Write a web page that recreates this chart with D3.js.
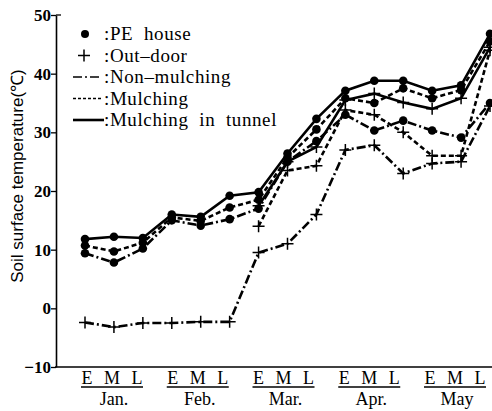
<!DOCTYPE html>
<html>
<head>
<meta charset="utf-8">
<script src="https://d3js.org/d3.v7.min.js"></script>
<style>
  body { margin: 0; background: #fff; }
  svg { display: block; }
  text { font-family: "Liberation Serif", "DejaVu Serif", serif; fill: #000; }
</style>
</head>
<body>
<div id="chart"></div>
<script>
// Data (E/M/L = early/mid/late of each month)
const periods = ["E", "M", "L"];
const months = ["Jan.", "Feb.", "Mar.", "Apr.", "May"];
const yTicks = [-10, 0, 10, 20, 30, 40, 50];

const peTunnel  = [11.8, 12.2, 12.0, 16.0, 15.6, 19.2, 19.8, 26.4, 32.3, 37.1, 38.8, 38.8, 37.1, 38.0, 46.8];
const peMulch   = [10.7, 9.7, 11.2, 15.5, 14.9, 17.2, 18.5, 25.7, 30.5, 35.8, 35.0, 37.5, 35.8, 37.2, 45.5];
const peNon     = [9.4, 7.8, 10.2, 15.0, 14.1, 15.2, 17.0, 25.0, 28.5, 33.0, 30.3, 32.0, 30.3, 29.1, 35.0];
const outTunnel = [null, null, null, null, null, null, 17.5, 25.0, 27.5, 35.5, 36.6, 35.1, 34.0, 35.8, 44.5];
const outMulch  = [null, null, null, null, null, null, 14.0, 23.5, 24.3, 33.8, 33.0, 30.0, 26.0, 26.0, 44.0];
const outNon    = [-2.4, -3.2, -2.5, -2.5, -2.3, -2.3, 9.5, 11.0, 16.0, 27.0, 27.8, 23.0, 24.7, 25.0, 34.5];

const width = 492, height = 411;

const svg = d3.select("#chart")
    .append("svg")
    .attr("width", width)
    .attr("height", height);

// Scales
const x = d3.scaleLinear().domain([0, 14]).range([85, 490]);
const y = d3.scaleLinear().domain([-10, 50]).range([367, 15]);
const xLab = d3.scaleLinear().domain([0, 4]).range([112, 455]);

// Y axis
const yAxis = d3.axisLeft(y)
    .tickValues(yTicks)
    .tickSize(5)
    .tickSizeOuter(0)
    .tickFormat(d => d < 0 ? "\u2212" + Math.abs(d) : d);

const gy = svg.append("g")
    .attr("transform", "translate(56,0)")
    .call(yAxis);
gy.select(".domain").attr("stroke-width", 1.6);
gy.selectAll(".tick line").attr("stroke-width", 1.3);
gy.selectAll(".tick text")
    .attr("font-family", "Liberation Serif, serif")
    .attr("font-size", 17)
    .attr("font-weight", "bold")
    .attr("x", -5);

// top cap of the y axis
svg.append("line")
    .attr("x1", 56).attr("x2", 61)
    .attr("y1", y(50)).attr("y2", y(50))
    .attr("stroke", "#000").attr("stroke-width", 1.3);

// X axis baseline
svg.append("line")
    .attr("x1", 55).attr("x2", width)
    .attr("y1", y(-10)).attr("y2", y(-10))
    .attr("stroke", "#000").attr("stroke-width", 1.6);

// X labels: E M L under each month
months.forEach((m, i) => {
    const c = xLab(i);
    periods.forEach((p, j) => {
        svg.append("text")
            .attr("x", c + (j - 1) * 25)
            .attr("y", 384)
            .attr("text-anchor", "middle")
            .attr("font-size", 18)
            .text(p);
    });
    svg.append("line")
        .attr("x1", c - 31).attr("x2", c + 31)
        .attr("y1", 387).attr("y2", 387)
        .attr("stroke", "#000").attr("stroke-width", 1.4);
    svg.append("text")
        .attr("x", c + 2)
        .attr("y", 405)
        .attr("text-anchor", "middle")
        .attr("font-size", 18)
        .text(m);
});

// Y title
svg.append("text")
    .attr("transform", "translate(23,176) rotate(-90)")
    .attr("text-anchor", "middle")
    .style("font-family", "Liberation Sans, Arial, sans-serif")
    .attr("font-size", 17)
    .text("Soil surface temperature(\u2103)");

// Series
const dashDot = "9,3,2,3";
const dashed = "5,3";
const series = [
    { values: outNon, dash: dashDot, mark: "plus" },
    { values: outMulch, dash: dashed, mark: "plus" },
    { values: outTunnel, dash: null, mark: "plus" },
    { values: peNon, dash: dashDot, mark: "dot" },
    { values: peMulch, dash: dashed, mark: "dot" },
    { values: peTunnel, dash: null, mark: "dot" }
];

const line = d3.line()
    .defined(d => d != null)
    .x((d, i) => x(i))
    .y(d => y(d));

series.forEach(s => {
    svg.append("path")
        .datum(s.values)
        .attr("fill", "none")
        .attr("stroke", "#000")
        .attr("stroke-width", 2.6)
        .attr("stroke-dasharray", s.dash)
        .attr("d", line);

    const pts = s.values.map((v, i) => ({ i, v })).filter(d => d.v != null);
    if (s.mark === "dot") {
        svg.selectAll(null)
            .data(pts)
            .enter()
            .append("circle")
            .attr("cx", d => x(d.i))
            .attr("cy", d => y(d.v))
            .attr("r", 4.3)
            .attr("fill", "#000");
    } else {
        svg.selectAll(null)
            .data(pts)
            .enter()
            .append("path")
            .attr("d", d => `M${x(d.i) - 6},${y(d.v)}h12M${x(d.i)},${y(d.v) - 6}v12`)
            .attr("stroke", "#000")
            .attr("stroke-width", 1.5);
    }
});

// Legend
const legendItems = [
    { label: ":PE  house", mark: "dot" },
    { label: ":Out\u2013door", mark: "plus" },
    { label: ":Non\u2013mulching", dash: dashDot },
    { label: ":Mulching", dash: "3,2" },
    { label: ":Mulching  in  tunnel", dash: null }
];
const legendY = d3.scalePoint().domain(d3.range(legendItems.length)).range([34, 120]);

legendItems.forEach((d, i) => {
    const ly = legendY(i);
    if (d.mark === "dot") {
        svg.append("circle").attr("cx", 85).attr("cy", ly).attr("r", 4).attr("fill", "#000");
    } else if (d.mark === "plus") {
        svg.append("path")
            .attr("d", `M${78},${ly}h12M${84},${ly - 6}v12`)
            .attr("stroke", "#000").attr("stroke-width", 1.5);
    } else {
        svg.append("line")
            .attr("x1", 73).attr("x2", d.dash ? 101 : 104)
            .attr("y1", ly).attr("y2", ly)
            .attr("stroke", "#000")
            .attr("stroke-width", d.dash ? 1.6 : 2.6)
            .attr("stroke-dasharray", d.dash);
    }
    svg.append("text")
        .attr("x", 104)
        .attr("y", ly + 6)
        .attr("font-size", 19)
        .attr("letter-spacing", 0.6)
        .attr("xml:space", "preserve")
        .text(d.label);
});
</script>
</body>
</html>
